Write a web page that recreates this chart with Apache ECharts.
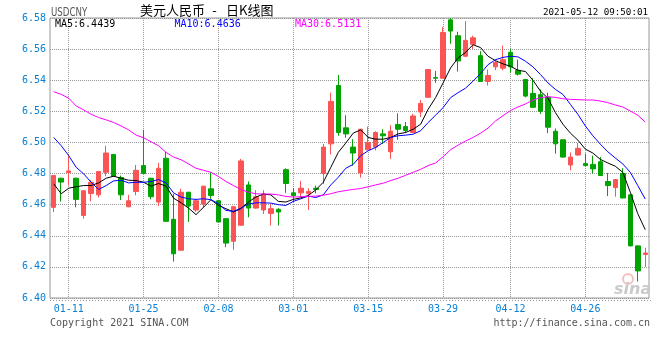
<!DOCTYPE html>
<html><head><meta charset="utf-8">
<script src="https://cdn.jsdelivr.net/npm/echarts@6/dist/echarts.min.js"></script>
<style>html,body{margin:0;padding:0;background:#fff}#c{width:660px;height:360px}</style>
</head><body><div id="c"></div>
<script>
const dates = ['01-07','01-08','01-11','01-12','01-13','01-14','01-15','01-18','01-19','01-20',
  '01-21','01-22','01-25','01-26','01-27','01-28','01-29','02-01','02-02','02-03',
  '02-04','02-05','02-08','02-09','02-10','02-18','02-19','02-22','02-23','02-24',
  '02-25','02-26','03-01','03-02','03-03','03-04','03-05','03-08','03-09','03-10',
  '03-11','03-12','03-15','03-16','03-17','03-18','03-19','03-22','03-23','03-24',
  '03-25','03-26','03-29','03-30','03-31','04-01','04-02','04-06','04-07','04-08',
  '04-09','04-12','04-13','04-14','04-15','04-16','04-19','04-20','04-21','04-22',
  '04-23','04-26','04-27','04-28','04-29','04-30','05-06','05-07','05-10','05-11'];
const openP = [6.4583,6.4770,6.4806,6.4770,6.4531,6.4672,6.4663,6.4808,6.4923,6.4774,
  6.4587,6.4685,6.4851,6.4770,6.4617,6.4898,6.4506,6.4307,6.4680,6.4566,
  6.4604,6.4702,6.4625,6.4510,6.4365,6.4468,6.4727,6.4578,6.4566,6.4544,
  6.4570,6.4825,6.4676,6.4676,6.4672,6.4706,6.4800,6.4991,6.5366,6.5094,
  6.4970,6.4804,6.4953,6.4970,6.5055,6.4940,6.5115,6.5102,6.5064,6.5196,
  6.5290,6.5417,6.5413,6.5788,6.5686,6.5554,6.5631,6.5558,6.5392,6.5486,
  6.5477,6.5579,6.5464,6.5405,6.5315,6.5307,6.5290,6.5072,6.5017,6.4855,
  6.4919,6.4864,6.4859,6.4876,6.4749,6.4710,6.4800,6.4663,6.4335,6.4280];
const closeP = [6.4787,6.4745,6.4817,6.4634,6.4689,6.4744,6.4813,6.4932,6.4783,6.4663,
  6.4625,6.4821,6.4800,6.4651,6.4834,6.4493,6.4284,6.4680,6.4591,6.4625,
  6.4719,6.4659,6.4489,6.4353,6.4587,6.4881,6.4578,6.4651,6.4668,6.4574,
  6.4553,6.4736,6.4659,6.4706,6.4685,6.4698,6.4970,6.5264,6.5064,6.5055,
  6.4932,6.5085,6.5000,6.5064,6.5043,6.5072,6.5085,6.5077,6.5170,6.5251,
  6.5469,6.5413,6.5707,6.5716,6.5524,6.5656,6.5673,6.5392,6.5430,6.5515,
  6.5532,6.5486,6.5439,6.5298,6.5226,6.5200,6.5098,6.4991,6.4906,6.4906,
  6.4962,6.4851,6.4830,6.4787,6.4723,6.4761,6.4643,6.4335,6.4174,6.4289];
const lowP = [6.4553,6.4620,6.4723,6.4583,6.4510,6.4621,6.4646,6.4783,6.4779,6.4630,
  6.4583,6.4660,6.4798,6.4634,6.4591,6.4489,6.4234,6.4305,6.4489,6.4553,
  6.4578,6.4638,6.4487,6.4327,6.4310,6.4464,6.4519,6.4574,6.4540,6.4466,
  6.4466,6.4676,6.4617,6.4646,6.4566,6.4672,6.4732,6.4923,6.5043,6.5030,
  6.4851,6.4774,6.4949,6.4949,6.4991,6.4894,6.5017,6.5060,6.5060,6.5162,
  6.5288,6.5383,6.5411,6.5635,6.5456,6.5550,6.5601,6.5390,6.5366,6.5464,
  6.5464,6.5447,6.5430,6.5290,6.5222,6.5183,6.5060,6.4928,6.4902,6.4821,
  6.4915,6.4847,6.4800,6.4785,6.4655,6.4651,6.4641,6.4333,6.4106,6.4199];
const highP = [6.4791,6.4772,6.4919,6.4774,6.4693,6.4757,6.4817,6.4979,6.4925,6.4787,
  6.4663,6.4855,6.5081,6.4772,6.4868,6.4940,6.4670,6.4702,6.4682,6.4638,
  6.4721,6.4808,6.4627,6.4512,6.4589,6.4894,6.4749,6.4693,6.4693,6.4606,
  6.4578,6.4834,6.4706,6.4753,6.4706,6.4723,6.4991,6.5320,6.5434,6.5175,
  6.5021,6.5087,6.5102,6.5072,6.5085,6.5111,6.5187,6.5132,6.5183,6.5273,
  6.5471,6.5460,6.5741,6.5798,6.5712,6.5780,6.5686,6.5587,6.5469,6.5532,
  6.5622,6.5601,6.5532,6.5407,6.5413,6.5341,6.5320,6.5090,6.5019,6.4936,
  6.4996,6.4928,6.4915,6.4906,6.4804,6.4766,6.4834,6.4665,6.4337,6.4323];
const ma5 = [6.4734,6.4670,6.4706,6.4715,6.4723,6.4723,6.4740,6.4770,6.4783,6.4770,
  6.4757,6.4755,6.4744,6.4719,6.4736,6.4719,6.4642,6.4612,6.4578,6.4536,
  6.4583,6.4632,6.4595,6.4574,6.4553,6.4574,6.4617,6.4649,6.4668,6.4663,
  6.4621,6.4617,6.4634,6.4644,6.4659,6.4695,6.4744,6.4840,6.4936,6.4996,
  6.5060,6.5081,6.5032,6.5021,6.5021,6.5032,6.5055,6.5064,6.5085,6.5117,
  6.5213,6.5288,6.5383,6.5479,6.5543,6.5579,6.5628,6.5610,6.5554,6.5526,
  6.5505,6.5490,6.5464,6.5456,6.5400,6.5330,6.5285,6.5192,6.5117,6.5060,
  6.5015,6.4957,6.4932,6.4891,6.4868,6.4847,6.4808,6.4680,6.4542,6.4439];
const ma10 = [6.5032,6.4979,6.4915,6.4840,6.4798,6.4744,6.4698,6.4723,6.4753,6.4757,
  6.4740,6.4744,6.4744,6.4749,6.4761,6.4740,6.4676,6.4649,6.4638,6.4634,
  6.4638,6.4632,6.4606,6.4563,6.4557,6.4578,6.4604,6.4612,6.4612,6.4610,
  6.4600,6.4595,6.4621,6.4638,6.4655,6.4646,6.4663,6.4727,6.4776,6.4834,
  6.4859,6.4915,6.4947,6.4968,6.5000,6.5032,6.5043,6.5047,6.5053,6.5075,
  6.5128,6.5175,6.5224,6.5288,6.5320,6.5349,6.5394,6.5443,6.5500,6.5532,
  6.5547,6.5554,6.5550,6.5522,6.5486,6.5437,6.5383,6.5341,6.5309,6.5245,
  6.5181,6.5106,6.5043,6.4989,6.4940,6.4900,6.4862,6.4808,6.4723,6.4636];
const ma30 = [6.5326,6.5309,6.5285,6.5234,6.5209,6.5181,6.5160,6.5145,6.5128,6.5106,
  6.5081,6.5047,6.5030,6.5004,6.4979,6.4936,6.4906,6.4889,6.4862,6.4834,
  6.4821,6.4808,6.4781,6.4749,6.4723,6.4698,6.4680,6.4670,6.4668,6.4668,
  6.4663,6.4653,6.4649,6.4651,6.4653,6.4655,6.4661,6.4670,6.4683,6.4691,
  6.4698,6.4704,6.4715,6.4727,6.4738,6.4755,6.4770,6.4789,6.4808,6.4827,
  6.4851,6.4868,6.4908,6.4953,6.4983,6.5009,6.5032,6.5060,6.5092,6.5138,
  6.5172,6.5205,6.5228,6.5247,6.5273,6.5288,6.5294,6.5290,6.5281,6.5277,
  6.5275,6.5273,6.5273,6.5266,6.5256,6.5241,6.5228,6.5202,6.5175,6.5131];
const xLabelDates = ['01-11','01-25','02-08','03-01','03-15','03-29','04-12','04-26'];
const yMin = 6.40, yMax = 6.58, yStep = 0.02;
const maLegend = ['MA5:6.4439', 'MA10:6.4636', 'MA30:6.5131'];
const titleParts = ['美元人民币', '-', '日K线图'];
const symbolText = 'USDCNY';
const timeText = '2021-05-12 09:50:01';
const copyText = 'Copyright 2021 SINA.COM';
const urlText = 'http://finance.sina.com.cn';

const UP = '#fa5454', DOWN = '#00a300', AXISBLUE = '#0a80d4', GRIDC = '#999';
const MONO = '"DejaVu Sans Mono", "Liberation Mono", monospace';
const CJK = '"Noto Sans CJK SC", sans-serif';

const kData = dates.map((d, i) => [openP[i], closeP[i], lowP[i], highP[i]]);
const showDate = (idx, val) => xLabelDates.indexOf(val) >= 0;

const chart = echarts.init(document.getElementById('c'), null, {renderer: 'canvas'});
chart.setOption({
  animation: false,
  backgroundColor: '#fff',
  grid: {left: 50, right: 11, top: 18, height: 280, show: true, borderColor: '#999', borderWidth: 1,
    containLabel: false, outerBoundsMode: 'none'},
  xAxis: {
    type: 'category', data: dates, boundaryGap: true,
    axisLine: {show: false}, axisTick: {show: false},
    axisLabel: {interval: showDate, color: AXISBLUE, fontFamily: MONO, fontSize: 10, margin: 6},
    splitLine: {show: true, interval: showDate, alignWithLabel: true,
      lineStyle: {color: GRIDC, type: 'dotted', width: 1}}
  },
  yAxis: {
    type: 'value', min: yMin, max: yMax, interval: yStep, scale: true,
    axisLine: {show: false}, axisTick: {show: false},
    axisLabel: {color: AXISBLUE, fontFamily: MONO, fontSize: 10, margin: 4,
      formatter: v => v.toFixed(2)},
    splitLine: {show: true, lineStyle: {color: GRIDC, type: 'dotted', width: 1}}
  },
  graphic: [
    {type: 'text', z: 10, x: 51, y: 12.5, scaleX: 0.8,
      style: {text: symbolText, x: 0, y: 0, fill: '#555',
      font: '12px "Liberation Sans Narrow", "DejaVu Sans Condensed", sans-serif', verticalAlign: 'middle'}},
    {type: 'text', z: 10, style: {text: titleParts[0], x: 140, y: 10, fill: '#000',
      font: '13px ' + CJK, verticalAlign: 'middle'}},
    {type: 'text', z: 10, style: {text: titleParts[1], x: 214.5, y: 10, fill: '#000',
      font: '13px ' + CJK, align: 'center', verticalAlign: 'middle'}},
    {type: 'text', z: 10, style: {text: titleParts[2], x: 226, y: 10, fill: '#000',
      font: '13px ' + CJK, verticalAlign: 'middle'}},
    {type: 'text', z: 10, style: {text: timeText, x: 648, y: 12.5, fill: '#000',
      font: '9.2px ' + MONO, align: 'right', verticalAlign: 'middle'}},
    {type: 'text', z: 10, style: {text: maLegend[0], x: 55, y: 24, fill: '#000',
      font: '10px ' + MONO, verticalAlign: 'middle'}},
    {type: 'text', z: 10, style: {text: maLegend[1], x: 174.5, y: 24, fill: '#0000ff',
      font: '10px ' + MONO, verticalAlign: 'middle'}},
    {type: 'text', z: 10, style: {text: maLegend[2], x: 295, y: 24, fill: '#ff00ff',
      font: '10px ' + MONO, verticalAlign: 'middle'}},
    {type: 'text', z: 10, style: {text: copyText, x: 50, y: 323.5, fill: '#555',
      font: '10px ' + MONO, verticalAlign: 'middle'}},
    {type: 'text', z: 10, style: {text: urlText, x: 650, y: 323.5, fill: '#555',
      font: '10px ' + MONO, align: 'right', verticalAlign: 'middle'}},
    {type: 'line', z: 1, shape: {x1: 50, y1: 300.5, x2: 653, y2: 300.5},
      style: {stroke: '#999', lineWidth: 1, lineDash: [1, 2]}},
    {type: 'circle', z: 1, shape: {cx: 628, cy: 279, r: 5},
      style: {fill: 'none', stroke: '#f7c0c0', lineWidth: 2}},
    {type: 'text', z: 1, style: {text: 'sina', x: 614, y: 290, fill: '#cacaca',
      font: 'italic bold 16px "DejaVu Sans", sans-serif', verticalAlign: 'middle'}}
  ],
  series: [
    {type: 'candlestick', data: kData, barWidth: 5,
      itemStyle: {color: UP, color0: DOWN, borderColor: UP, borderColor0: DOWN, borderWidth: 1}},
    {type: 'line', data: ma5, symbol: 'none', lineStyle: {color: '#000', width: 1}, z: 3},
    {type: 'line', data: ma10, symbol: 'none', lineStyle: {color: '#0000ff', width: 1}, z: 3},
    {type: 'line', data: ma30, symbol: 'none', lineStyle: {color: '#ff00ff', width: 1}, z: 3}
  ]
});
</script></body></html>
